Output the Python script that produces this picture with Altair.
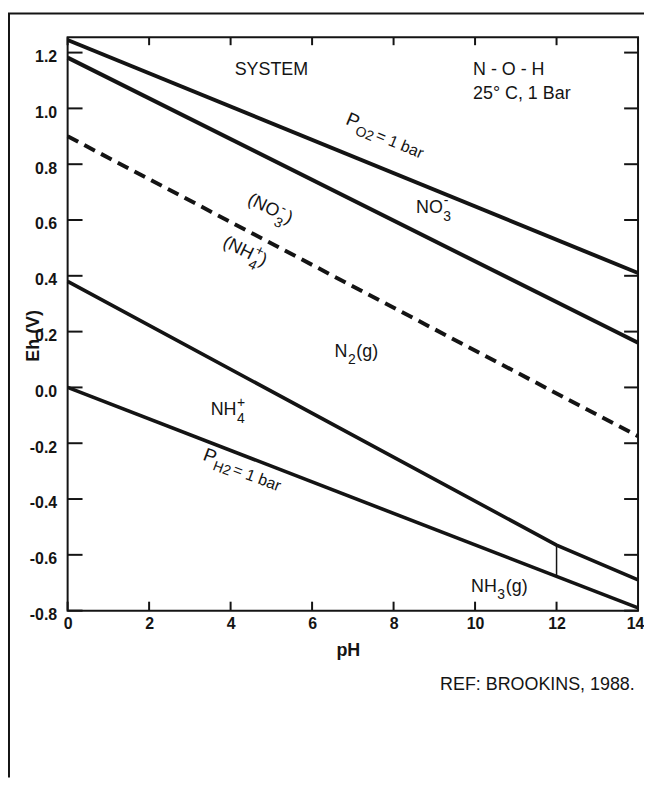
import altair as alt
import pandas as pd

# ---------------- data ----------------
o2_ph = [0, 14]
o2_eh = [1.245, 0.41]
no3_ph = [0, 14]
no3_eh = [1.182, 0.16]
no3nh4_ph = [0, 14]
no3nh4_eh = [0.90, -0.175]
n2_ph = [0, 12, 14]
n2_eh = [0.38, -0.565, -0.69]
h2_ph = [0, 14]
h2_eh = [0.0, -0.79]
nh3_ph = [12, 12]
nh3_eh = [-0.677, -0.565]

x_tick_values = [0, 2, 4, 6, 8, 10, 12, 14]
y_tick_values = [-0.8, -0.6, -0.4, -0.2, 0.0, 0.2, 0.4, 0.6, 0.8, 1.0, 1.2]

header_texts = ["SYSTEM", "N - O - H", "25° C, 1 Bar"]
ref_text = "REF:  BROOKINS, 1988."

# ---------------- styling ----------------
INK = "#141414"
FONT = "Liberation Sans"
W, H = 574, 577

xs = alt.Scale(domain=[0, 14], nice=False, zero=False)
ys = alt.Scale(domain=[-0.8, 1.255], nice=False, zero=False)

x_axis = alt.Axis(
    values=x_tick_values, format="d", ticks=False, tickSize=0, domain=False, grid=False,
    labelFont=FONT, labelFontSize=16, labelFontWeight="bold", labelColor=INK,
    labelPadding=5, labelFlush=False, labelOverlap=False,
    labelOffset={"condition": {"test": "datum.value === 14", "value": -3}, "value": 0},
    title="pH", titleFont=FONT, titleFontSize=18, titleFontWeight="bold", titleColor=INK,
    titleX=282, titleY=40, titleBaseline="middle", titleAlign="center",
)
y_axis = alt.Axis(
    values=y_tick_values, ticks=False, tickSize=0, domain=False, grid=False,
    labelExpr="datum.value < 0 ? '-' + format(-datum.value, '.1f') : format(datum.value, '.1f')",
    labelFont=FONT, labelFontSize=16, labelFontWeight="bold", labelColor=INK,
    labelPadding=11, labelOffset=4, labelFlush=False, labelOverlap=False,
    title="Eh (V)", titleFont=FONT, titleFontSize=18, titleFontWeight="bold", titleColor=INK,
    titleX=-34, titleY=300, titleBaseline="middle", titleAlign="center", titleAngle=270,
)


def X(field="pH"):
    return alt.X(f"{field}:Q", scale=xs, axis=x_axis)


def Y(field="Eh"):
    return alt.Y(f"{field}:Q", scale=ys, axis=y_axis)


# ---------------- lines ----------------
rows = []
for name, phs, ehs in [("O2", o2_ph, o2_eh), ("NO3", no3_ph, no3_eh)]:
    for k, (p, e) in enumerate(zip(phs, ehs)):
        rows.append({"line": name, "k": k, "pH": p, "Eh": e})
upper_df = pd.DataFrame(rows)
rows = []
for name, phs, ehs in [("N2", n2_ph, n2_eh), ("H2", h2_ph, h2_eh)]:
    for k, (p, e) in enumerate(zip(phs, ehs)):
        rows.append({"line": name, "k": k, "pH": p, "Eh": e})
lower_df = pd.DataFrame(rows)

upper = alt.Chart(upper_df).mark_line(color=INK, strokeWidth=4).encode(
    x=X(), y=Y(), detail="line:N", order="k:Q"
)
lower = alt.Chart(lower_df).mark_line(color=INK, strokeWidth=3.6).encode(
    x=X(), y=Y(), detail="line:N", order="k:Q"
)
dashed = alt.Chart(pd.DataFrame({"pH": no3nh4_ph, "Eh": no3nh4_eh})).mark_line(
    color=INK, strokeWidth=4, strokeDash=[12, 7]
).encode(x=X(), y=Y())
vertical = alt.Chart(pd.DataFrame({"pH": nh3_ph, "Eh": nh3_eh})).mark_line(
    color=INK, strokeWidth=1.5
).encode(x=X(), y=Y())

# ---------------- inward ticks ----------------
ytick_df = pd.DataFrame({"v": y_tick_values})
xtick_df = pd.DataFrame({"v": x_tick_values})
tick_layers = [
    alt.Chart(ytick_df).mark_rule(color=INK, strokeWidth=2).encode(
        y=Y("v"), x=alt.value(0), x2=alt.value(15)),
    alt.Chart(ytick_df).mark_rule(color=INK, strokeWidth=2).encode(
        y=Y("v"), x=alt.value(W - 14), x2=alt.value(W)),
    alt.Chart(xtick_df).mark_rule(color=INK, strokeWidth=2).encode(
        x=X("v"), y=alt.value(H - 9), y2=alt.value(H)),
    alt.Chart(xtick_df).mark_rule(color=INK, strokeWidth=2).encode(
        x=X("v"), y=alt.value(0), y2=alt.value(8)),
]

# ---------------- outer frame ----------------
one = pd.DataFrame({"a": [0]})
frame_layers = [
    alt.Chart(one).mark_rule(color=INK, strokeWidth=2).encode(
        x=alt.value(-59), y=alt.value(-24), y2=alt.value(745)),
    alt.Chart(one).mark_rule(color=INK, strokeWidth=2).encode(
        x=alt.value(-60), x2=alt.value(600), y=alt.value(-24)),
]


# ---------------- text ----------------
def piece(ph, eh, text, size, dx=0, dy=0, angle=0, align="left", weight="normal"):
    df = pd.DataFrame({"pH": [ph], "Eh": [eh], "t": [text]})
    return alt.Chart(df).mark_text(
        font=FONT, fontSize=size, fontWeight=weight, color=INK, angle=angle,
        align=align, baseline="alphabetic", dx=dx, dy=dy
    ).encode(x=X(), y=Y(), text="t:N")


text_layers = [
    piece(4.1, 1.118, header_texts[0], 18),
    piece(9.95, 1.118, header_texts[1], 18),
    piece(9.95, 1.032, header_texts[2], 18),
    piece(13.92, -1.085, ref_text, 18, align="right"),
]

composites = [
    (6.8, 0.945, 22.6, [("P", 19, 0, 0), ("O2", 14, 13, 6), ("= 1 bar", 16, 34, 3)]),
    (3.3, -0.258, 20.7, [("P", 19, 0, 0), ("H2", 14, 13, 6), ("= 1 bar", 16, 33, 3)]),
    (4.39, 0.66, 26, [("(NO", 18, 0, 0), ("3", 14, 33.5, 8), ("-", 14, 34, -8), (")", 18, 42, 0)]),
    (3.78, 0.507, 26, [("(NH", 18, 0, 0), ("4", 14, 32.5, 8), ("+", 14, 32.5, -8), (")", 18, 41, 0)]),
    (8.55, 0.625, 0, [("NO", 18, 0, 0), ("3", 14, 27.5, 8), ("-", 14, 28, -8)]),
    (6.55, 0.11, 0, [("N", 18, 0, 0), ("2", 14, 13.5, 7), ("(g)", 18, 22, 0)]),
    (3.51, -0.10, 0, [("NH", 18, 0, 0), ("4", 14, 26.5, 8), ("+", 14, 26.5, -8)]),
    (9.9, -0.733, 0, [("NH", 18, 0, 0), ("3", 14, 26.5, 7), ("(g)", 18, 35, 0)]),
]
for ph, eh, ang, parts in composites:
    for t, s, dx, dy in parts:
        text_layers.append(piece(ph, eh, t, s, dx=dx, dy=dy, angle=ang))

chart = alt.layer(
    upper, lower, dashed, vertical, *tick_layers, *frame_layers, *text_layers
).properties(
    width=W, height=H,
    padding={"left": 60, "top": 27, "right": 6, "bottom": 168},
    autosize=alt.AutoSizeParams(type="none"),
    background="white",
).configure_view(
    stroke=INK, strokeWidth=2
)

chart.save("out.html", embed_options={"renderer": "svg", "actions": False})
